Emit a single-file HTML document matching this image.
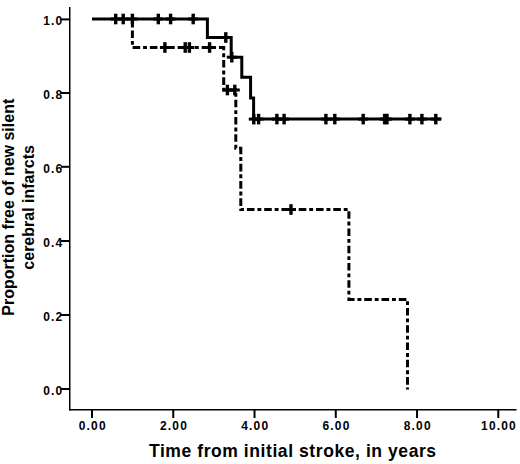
<!DOCTYPE html>
<html><head><meta charset="utf-8"><style>
html,body{margin:0;padding:0;background:#fff;width:520px;height:464px;overflow:hidden;}
svg{display:block;}
text{font-family:"Liberation Sans",sans-serif;font-weight:bold;fill:#000;}
.t{font-size:13.6px;letter-spacing:1.37px;}
.xt{font-size:18px;}
.yt{font-size:16px;}
</style></head><body>
<svg width="520" height="464" viewBox="0 0 520 464">
<line x1="69.75" y1="7" x2="69.75" y2="410.5" stroke="#000" stroke-width="1.5"/>
<line x1="69" y1="409.75" x2="516.6" y2="409.75" stroke="#000" stroke-width="1.5"/>
<line x1="61" y1="19.4" x2="69.75" y2="19.4" stroke="#000" stroke-width="2"/>
<line x1="61" y1="93.0" x2="69.75" y2="93.0" stroke="#000" stroke-width="2"/>
<line x1="61" y1="166.8" x2="69.75" y2="166.8" stroke="#000" stroke-width="2"/>
<line x1="61" y1="241.0" x2="69.75" y2="241.0" stroke="#000" stroke-width="2"/>
<line x1="61" y1="315.0" x2="69.75" y2="315.0" stroke="#000" stroke-width="2"/>
<line x1="61" y1="389.0" x2="69.75" y2="389.0" stroke="#000" stroke-width="2"/>
<line x1="92.00" y1="409.75" x2="92.00" y2="418" stroke="#000" stroke-width="2"/>
<line x1="173.26" y1="409.75" x2="173.26" y2="418" stroke="#000" stroke-width="2"/>
<line x1="254.52" y1="409.75" x2="254.52" y2="418" stroke="#000" stroke-width="2"/>
<line x1="335.78" y1="409.75" x2="335.78" y2="418" stroke="#000" stroke-width="2"/>
<line x1="417.04" y1="409.75" x2="417.04" y2="418" stroke="#000" stroke-width="2"/>
<line x1="498.30" y1="409.75" x2="498.30" y2="418" stroke="#000" stroke-width="2"/>
<text transform="translate(63.40,25.20) scale(0.88,1)" text-anchor="end" class="t">1.0</text>
<text transform="translate(63.40,98.80) scale(0.88,1)" text-anchor="end" class="t">0.8</text>
<text transform="translate(63.40,172.60) scale(0.88,1)" text-anchor="end" class="t">0.6</text>
<text transform="translate(63.40,246.80) scale(0.88,1)" text-anchor="end" class="t">0.4</text>
<text transform="translate(63.40,320.80) scale(0.88,1)" text-anchor="end" class="t">0.2</text>
<text transform="translate(63.40,394.80) scale(0.88,1)" text-anchor="end" class="t">0.0</text>
<text transform="translate(92.70,429.9) scale(0.88,1)" text-anchor="middle" class="t">0.00</text>
<text transform="translate(173.96,429.9) scale(0.88,1)" text-anchor="middle" class="t">2.00</text>
<text transform="translate(255.22,429.9) scale(0.88,1)" text-anchor="middle" class="t">4.00</text>
<text transform="translate(336.48,429.9) scale(0.88,1)" text-anchor="middle" class="t">6.00</text>
<text transform="translate(417.74,429.9) scale(0.88,1)" text-anchor="middle" class="t">8.00</text>
<text transform="translate(499.00,429.9) scale(0.88,1)" text-anchor="middle" class="t">10.00</text>
<text transform="translate(148.96,456.8) scale(0.974,1)" class="xt" letter-spacing="0.585">Time from initial stroke, in years</text>
<g transform="translate(14.2,207.2) rotate(-90)"><text x="0" y="0" text-anchor="middle" class="yt">Proportion free of new silent</text></g>
<g transform="translate(33.7,207.4) rotate(-90)"><text x="0" y="0" text-anchor="middle" class="yt">cerebral infarcts</text></g>
<polyline points="132.4,19 132.4,47.5 223.7,47.5 223.7,90 235.8,90 235.8,148.3 240.8,148.3 240.8,209.5 348.9,209.5 348.9,299.4 407.5,299.4 407.5,389.5" fill="none" stroke="#000" stroke-width="3" stroke-dasharray="7.6 2.89 3.9 2.88" stroke-dashoffset="5.85"/>
<g fill="#000"><rect x="163.20" y="42.20" width="3.4" height="10.6"/><rect x="159.90" y="46.00" width="10" height="3"/><rect x="183.50" y="42.20" width="3.4" height="10.6"/><rect x="180.20" y="46.00" width="10" height="3"/><rect x="187.70" y="42.20" width="3.4" height="10.6"/><rect x="184.40" y="46.00" width="10" height="3"/><rect x="207.90" y="42.20" width="3.4" height="10.6"/><rect x="204.60" y="46.00" width="10" height="3"/><rect x="225.70" y="84.70" width="3.4" height="10.6"/><rect x="222.40" y="88.50" width="10" height="3"/><rect x="233.10" y="84.70" width="3.4" height="10.6"/><rect x="229.80" y="88.50" width="10" height="3"/><rect x="289.30" y="204.20" width="3.4" height="10.6"/><rect x="286.00" y="208.00" width="10" height="3"/></g>
<polyline points="92,19 207.4,19 207.4,37.5 231.2,37.5 231.2,57.2 241.8,57.2 241.8,77.2 250.6,77.2 250.6,98 253.6,98 253.6,119.1 441.5,119.1" fill="none" stroke="#000" stroke-width="3" stroke-linejoin="miter"/>
<g fill="#000"><rect x="114.00" y="13.70" width="3.4" height="10.6"/><rect x="110.70" y="17.50" width="10" height="3"/><rect x="121.50" y="13.70" width="3.4" height="10.6"/><rect x="118.20" y="17.50" width="10" height="3"/><rect x="130.70" y="13.70" width="3.4" height="10.6"/><rect x="127.40" y="17.50" width="10" height="3"/><rect x="156.60" y="13.70" width="3.4" height="10.6"/><rect x="153.30" y="17.50" width="10" height="3"/><rect x="168.90" y="13.70" width="3.4" height="10.6"/><rect x="165.60" y="17.50" width="10" height="3"/><rect x="191.50" y="13.70" width="3.4" height="10.6"/><rect x="188.20" y="17.50" width="10" height="3"/><rect x="224.10" y="32.20" width="3.4" height="10.6"/><rect x="220.80" y="36.00" width="10" height="3"/><rect x="230.10" y="51.90" width="3.4" height="10.6"/><rect x="226.80" y="55.70" width="10" height="3"/><rect x="252.10" y="113.80" width="3.4" height="10.6"/><rect x="248.80" y="117.60" width="10" height="3"/><rect x="256.90" y="113.80" width="3.4" height="10.6"/><rect x="253.60" y="117.60" width="10" height="3"/><rect x="275.20" y="113.80" width="3.4" height="10.6"/><rect x="271.90" y="117.60" width="10" height="3"/><rect x="282.40" y="113.80" width="3.4" height="10.6"/><rect x="279.10" y="117.60" width="10" height="3"/><rect x="324.20" y="113.80" width="3.4" height="10.6"/><rect x="320.90" y="117.60" width="10" height="3"/><rect x="333.10" y="113.80" width="3.4" height="10.6"/><rect x="329.80" y="117.60" width="10" height="3"/><rect x="361.50" y="113.80" width="3.4" height="10.6"/><rect x="358.20" y="117.60" width="10" height="3"/><rect x="382.90" y="113.80" width="3.4" height="10.6"/><rect x="379.60" y="117.60" width="10" height="3"/><rect x="385.30" y="113.80" width="3.4" height="10.6"/><rect x="382.00" y="117.60" width="10" height="3"/><rect x="408.20" y="113.80" width="3.4" height="10.6"/><rect x="404.90" y="117.60" width="10" height="3"/><rect x="420.20" y="113.80" width="3.4" height="10.6"/><rect x="416.90" y="117.60" width="10" height="3"/><rect x="434.10" y="113.80" width="3.4" height="10.6"/><rect x="430.80" y="117.60" width="10" height="3"/></g>
</svg>
</body></html>
